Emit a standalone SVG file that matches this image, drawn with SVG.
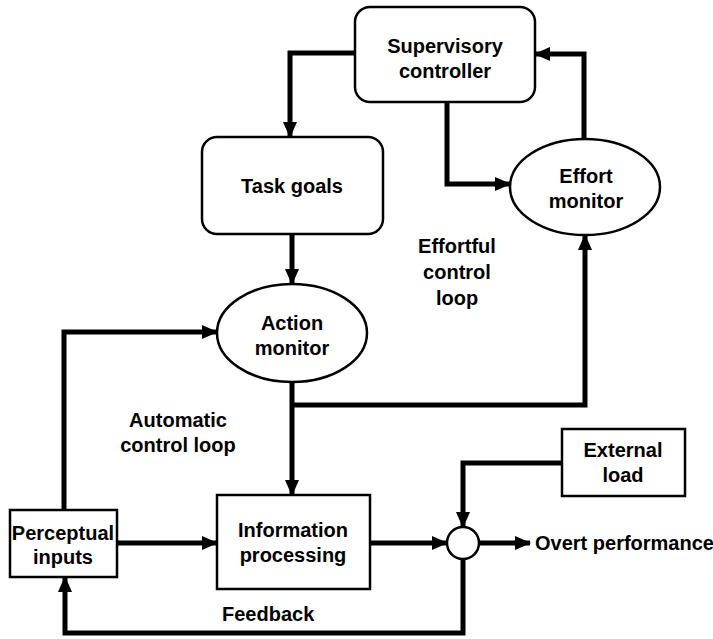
<svg xmlns="http://www.w3.org/2000/svg" width="713" height="639" viewBox="0 0 713 639">
  <defs>
    <marker id="arrow" markerUnits="userSpaceOnUse" markerWidth="16" markerHeight="14" refX="15" refY="7" orient="auto">
      <path d="M0,0 L16,7 L0,14 Z" fill="#000"/>
    </marker>
    <style>
      .box { fill: #fff; stroke: #000; stroke-width: 2.5; }
      .wire { fill: none; stroke: #000; stroke-width: 5; stroke-linejoin: miter; }
      .arr { marker-end: url(#arrow); }
      text { font-family: "Liberation Sans", Arial, Helvetica, sans-serif; font-weight: bold; font-size: 20px; fill: #000; text-anchor: middle; }
      .left { text-anchor: start; }
    </style>
  </defs>
  <rect width="713" height="639" fill="#fff"/>

  <!-- connectors -->
  <g id="connectors">
    <!-- supervisory controller -> task goals -->
    <path class="wire arr" d="M355,53 H290 V137"/>
    <!-- task goals -> action monitor -->
    <path class="wire arr" d="M292,234 V284"/>
    <!-- supervisory controller -> effort monitor -->
    <path class="wire arr" d="M447,102 V184 H510"/>
    <!-- effort monitor -> supervisory controller -->
    <path class="wire arr" d="M584,139 V54 H535"/>
    <!-- action monitor -> information processing -->
    <path class="wire arr" d="M292,382 V495"/>
    <!-- action monitor -> effort monitor -->
    <path class="wire arr" d="M292,405 H585 V235"/>
    <!-- perceptual inputs -> action monitor -->
    <path class="wire arr" d="M64,510 V332 H217"/>
    <!-- perceptual inputs -> information processing -->
    <path class="wire arr" d="M117,543 H217"/>
    <!-- information processing -> summing junction -->
    <path class="wire arr" d="M370,543 H447"/>
    <!-- external load -> summing junction -->
    <path class="wire arr" d="M562,463 H463 V527"/>
    <!-- summing junction -> overt performance -->
    <path class="wire arr" d="M479,543 H530"/>
    <!-- feedback -->
    <path class="wire arr" d="M463,559 V633 H65 V577"/>
  </g>

  <g id="supervisory-controller">
    <rect class="box" x="355" y="7" width="180" height="95" rx="15"/>
    <text x="445" y="53">Supervisory</text>
    <text x="445" y="78">controller</text>
  </g>

  <g id="task-goals">
    <rect class="box" x="202" y="137" width="181" height="97" rx="15"/>
    <text x="292" y="193">Task goals</text>
  </g>

  <g id="action-monitor">
    <ellipse class="box" cx="292" cy="333" rx="75" ry="49"/>
    <text x="292" y="330">Action</text>
    <text x="292" y="355">monitor</text>
  </g>

  <g id="effort-monitor">
    <ellipse class="box" cx="585" cy="187" rx="75" ry="48"/>
    <text x="586" y="183">Effort</text>
    <text x="586" y="208">monitor</text>
  </g>

  <g id="perceptual-inputs">
    <rect class="box" x="10" y="510" width="107" height="67"/>
    <text x="63" y="540">Perceptual</text>
    <text x="63" y="564">inputs</text>
  </g>

  <g id="information-processing">
    <rect class="box" x="217" y="495" width="153" height="94"/>
    <text x="293" y="537">Information</text>
    <text x="293" y="562">processing</text>
  </g>

  <g id="external-load">
    <rect class="box" x="562" y="429" width="123" height="67"/>
    <text x="623" y="457">External</text>
    <text x="623" y="482">load</text>
  </g>

  <g id="summing-junction">
    <circle class="box" cx="463" cy="543" r="16"/>
  </g>

  <g id="labels">
    <text class="left" x="535" y="550">Overt performance</text>
    <text x="457" y="253">Effortful</text>
    <text x="457" y="279">control</text>
    <text x="457" y="305">loop</text>
    <text x="178" y="427">Automatic</text>
    <text x="178" y="452">control loop</text>
    <text class="left" x="222" y="621">Feedback</text>
  </g>
</svg>
